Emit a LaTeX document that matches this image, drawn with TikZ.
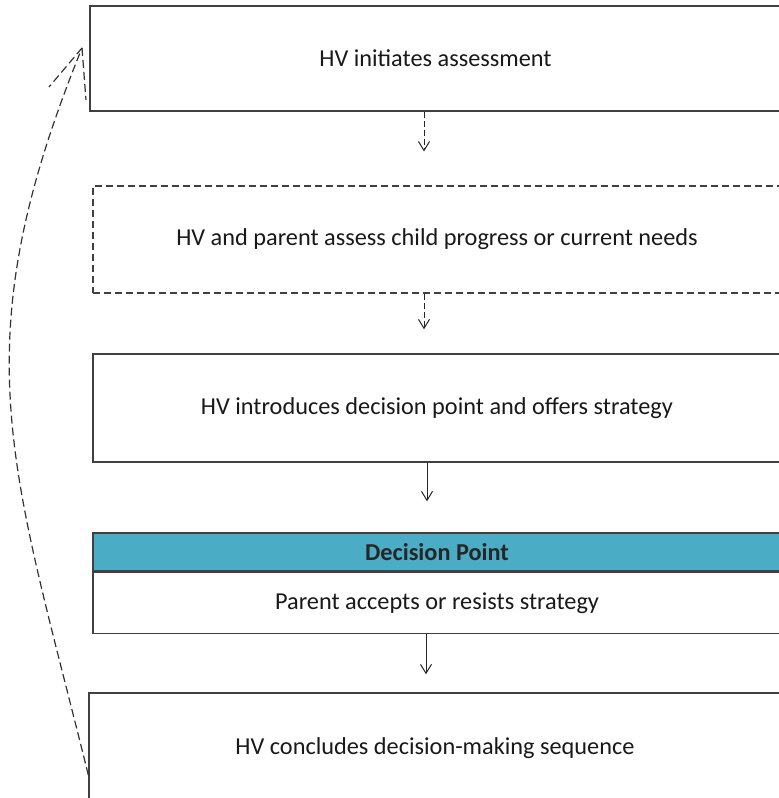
\documentclass[tikz,border=0pt]{standalone}
\usepackage{fontspec}
\setmainfont{Carlito}
\usetikzlibrary{arrows.meta}
\definecolor{boxline}{HTML}{404040}
\definecolor{headteal}{HTML}{4BACC6}
\tikzset{
  stepbox/.style={draw=boxline, line width=1.4pt, fill=white, rectangle, inner sep=0pt,
    font=\fontsize{24.3}{28}\selectfont, text=black!90},
  dashbox/.style={stepbox, line width=1.1pt, dash pattern=on 7pt off 4pt},
  headbox/.style={stepbox, fill=headteal, font=\fontsize{24.3}{28}\selectfont\bfseries, text=black!85},
  flow/.style={draw=black!85, line width=1pt, -{Straight Barb[length=9pt,width=11pt]}},
  dashflow/.style={flow, dash pattern=on 6pt off 3pt},
  loopline/.style={draw=black!80, line width=1.2pt, dash pattern=on 8pt off 4pt}
}
\begin{document}
\begin{tikzpicture}[x=1pt,y=-1pt]
  \useasboundingbox (0,0) rectangle (779,798);
  \clip (0,0) rectangle (779,798);
  \fill[white] (0,0) rectangle (779,798);

  % process steps
  \node[stepbox, minimum width=691pt, minimum height=105pt] (init) at (435.5,58.5) {HV initiates assessment};
  \node[dashbox, minimum width=688pt, minimum height=107pt] (assess) at (437,239.5) {HV and parent assess child progress or current needs};
  \node[stepbox, minimum width=688pt, minimum height=108pt] (offer) at (437,408) {HV introduces decision point and offers strategy};
  \node[headbox, minimum width=688pt, minimum height=38pt] (dphead) at (437,552) {Decision Point};
  \node[stepbox, minimum width=688pt, minimum height=61pt, anchor=north] (dpbody) at (dphead.south) {Parent accepts or resists strategy};
  \node[stepbox, minimum width=692pt, minimum height=110pt] (conclude) at (435,748) {HV concludes decision-making sequence};

  % connectors between steps
  \draw[dashflow, shorten >=34pt] (init.south -| 424,0) -- (assess.north -| 424,0);
  \draw[dashflow, shorten >=24pt] (assess.south -| 424,0) -- (offer.north -| 424,0);
  \draw[flow, shorten >=31pt] (offer.south -| 427,0) -- (dphead.north -| 427,0);
  \draw[flow, shorten >=18pt] (dpbody.south -| 426,0) -- (conclude.north -| 426,0);

  % return loop from the last step back to the first
  \coordinate (loopend) at (82,48);
  \draw[loopline] (conclude.west |- 0,775) .. controls (12,465) and (-40,348) .. (loopend);
  \draw[loopline] (loopend) -- ++(-33,39);
  \draw[loopline] (loopend) -- ++(4,52);
\end{tikzpicture}
\end{document}
